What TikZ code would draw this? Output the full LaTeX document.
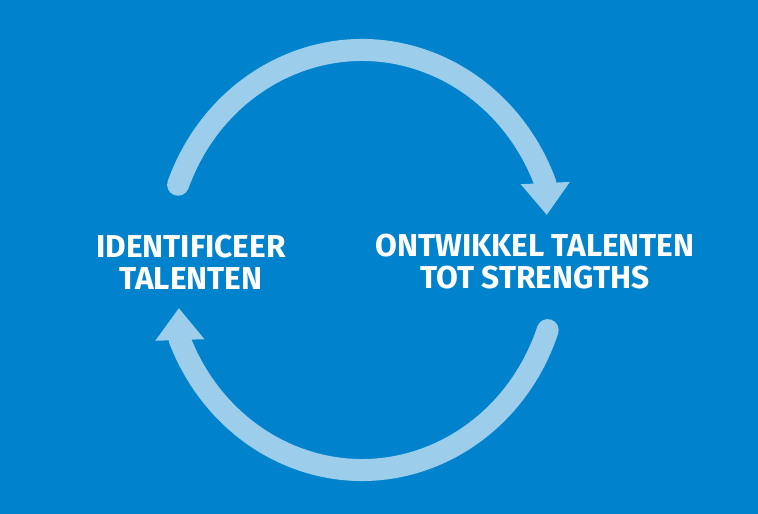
\documentclass[tikz,border=0pt]{standalone}
\usepackage{fontspec}
\setsansfont{Fira Sans}
\usetikzlibrary{arrows.meta,calc}
\definecolor{panelbg}{HTML}{0083CC}
\definecolor{cyclefill}{HTML}{9CCDEB}
\definecolor{labelfg}{HTML}{FFFFFF}

\begin{document}
\begin{tikzpicture}[
  font=\sffamily\bfseries\fontsize{18}{18.2}\selectfont,
  cyclearc/.style={
    draw=cyclefill,
    line width=0.44cm,
    line cap=round,
    -{Triangle[width=0.94cm,length=0.64cm]}
  },
  steplabel/.style={
    text=labelfg,
    align=center,
    inner sep=0pt
  }
]

% --- Background panel ---
\fill[panelbg] (0,0) rectangle (15.16,10.28);

% --- Cycle ---
\coordinate (hub) at (7.24,5.08);
\coordinate (topstart) at ($(hub)+(159:3.94 and 4.2)$);
\coordinate (botstart) at ($(hub)+(-19.5:3.94 and 4.2)$);

\draw[cyclearc] (topstart) arc[start angle=159, end angle=21.5, x radius=3.94, y radius=4.2]
  -- ++(0.03,-0.64);
\draw[cyclearc] (botstart) arc[start angle=-19.5, end angle=-157.6, x radius=3.94, y radius=4.2]
  -- ++(-0.02,0.64);

% --- Steps ---
\node[steplabel] (identify) at (3.82,5.04) {IDENTIFICEER\\TALENTEN};
\node[steplabel] (develop) at (10.7,5.04) {ONTWIKKEL TALENTEN\\TOT STRENGTHS};

\end{tikzpicture}
\end{document}
